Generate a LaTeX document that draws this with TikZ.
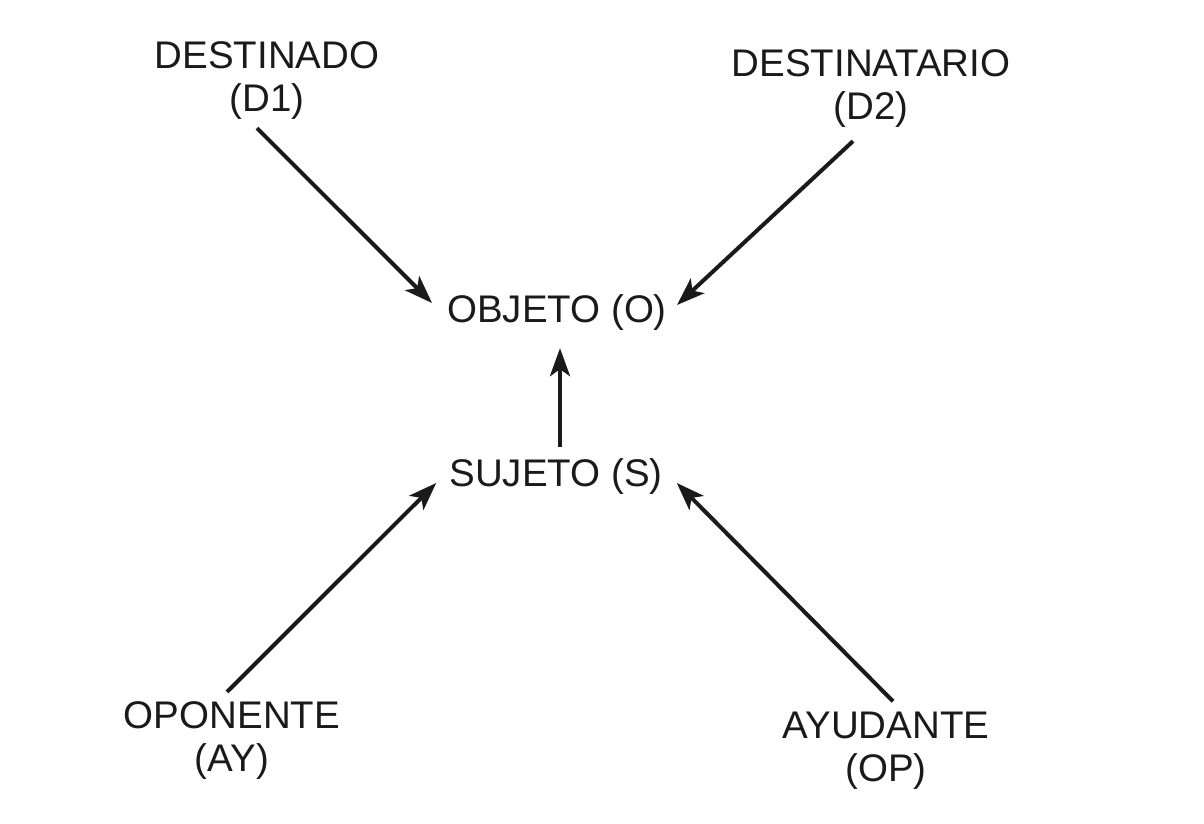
\documentclass[tikz,border=0pt]{standalone}
\usepackage{fontspec}
\setmainfont{Liberation Sans}
\usetikzlibrary{arrows.meta}
\definecolor{ink}{HTML}{1A1A1A}
\begin{document}
\begin{tikzpicture}[x=1pt,y=1pt,
  lbl/.style={inner sep=0pt, text=ink, align=center, font=\fontsize{38.5}{43}\selectfont},
  conn/.style={draw=ink, line width=4pt, -{Stealth[length=28pt,width=20pt,inset=7pt]}}]
\useasboundingbox[fill=white] (0,0) rectangle (1204,824);
\node[lbl, anchor=base] (d1) at (267,712) {DESTINADO\\(D1)};
\node[lbl, anchor=base] (d2) at (871,704) {DESTINATARIO\\(D2)};
\node[lbl, anchor=base] (obj) at (557,501) {OBJETO (O)};
\node[lbl, anchor=base] (suj) at (556,337) {SUJETO (S)};
\node[lbl, anchor=base] (op) at (232,52) {OPONENTE\\(AY)};
\node[lbl, anchor=base] (ay) at (886,42) {AYUDANTE\\(OP)};
\draw[conn] ([shift={(-10,-8)}]d1.south) -- ([shift={(-15,20)}]obj.base west);
\draw[conn] ([shift={(-18,-13)}]d2.south) -- ([shift={(10,18)}]obj.base east);
\draw[conn] ([shift={(4,12)}]suj.north) -- ([shift={(3,-17)}]obj.south);
\draw[conn] ([shift={(-5,10)}]op.north) -- ([shift={(-13,4)}]suj.base west);
\draw[conn] ([shift={(7,11)}]ay.north) -- ([shift={(14,4)}]suj.base east);
\end{tikzpicture}
\end{document}
